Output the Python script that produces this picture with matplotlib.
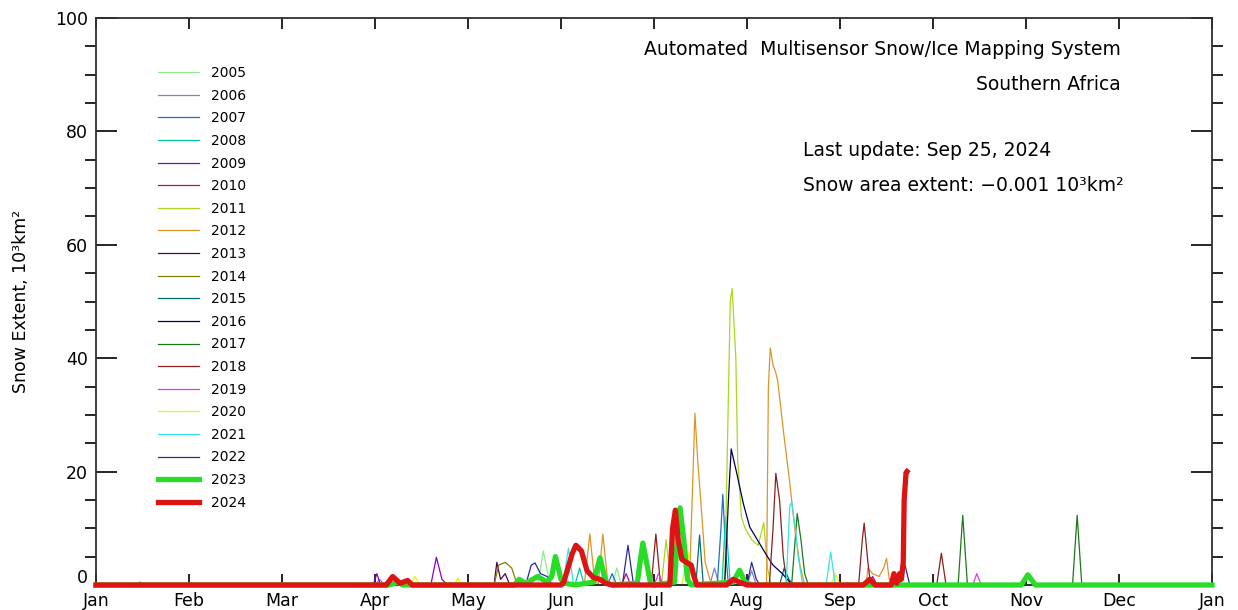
import matplotlib
matplotlib.use("Agg")
import matplotlib.pyplot as plt
from matplotlib.ticker import MultipleLocator, FuncFormatter

# month positions (0 = Jan 1, 12 = next Jan 1) and snow extent, 10^3 km^2
S2005 = [(0, 0), (0.42, 0), (0.47, 0.6), (0.52, 0), (4.75, 0), (4.81, 6.0), (4.87, 1.0), (4.92, 0),
         (5.55, 0), (5.6, 3.0), (5.65, 0), (12, 0)]
S2006 = [(0, 0), (3.0, 0), (3.05, 1.0), (3.1, 0), (6.6, 0), (6.65, 3.0), (6.7, 0),
         (7.0, 0), (7.05, 2.5), (7.1, 0), (12, 0)]
S2007 = [(0, 0), (5.5, 0), (5.55, 2.0), (5.6, 0), (6.68, 0), (6.72, 10), (6.74, 16), (6.77, 6), (6.8, 0), (12, 0)]
S2008 = [(0, 0), (5.15, 0), (5.2, 3.0), (5.25, 0), (6.73, 0), (6.77, 12), (6.82, 0), (12, 0)]
S2009 = [(0, 0), (2.98, 0), (3.02, 2.0), (3.06, 0), (3.6, 0), (3.66, 4.9), (3.72, 1.0), (3.78, 0), (12, 0)]
S2010 = [(0, 0), (5.65, 0), (5.7, 2.0), (5.75, 0), (8.3, 0), (8.35, 1.5), (8.4, 0), (12, 0)]
S2011 = [(0, 0), (6.08, 0), (6.13, 8), (6.18, 1), (6.22, 0), (6.76, 0), (6.79, 25), (6.82, 50), (6.84, 52.3),
         (6.88, 40), (6.9, 22), (6.94, 12), (6.98, 10), (7.05, 8), (7.12, 7), (7.18, 11), (7.22, 3), (7.26, 0), (12, 0)]
S2012 = [(0, 0), (5.25, 0), (5.31, 9), (5.36, 1), (5.4, 0), (5.45, 9), (5.5, 1), (5.55, 0),
         (6.38, 0), (6.42, 20), (6.44, 30.3), (6.47, 22), (6.52, 11), (6.55, 4), (6.6, 1), (6.65, 0),
         (7.21, 0), (7.23, 35), (7.25, 41.8), (7.28, 38.8), (7.31, 37.4), (7.33, 36), (7.4, 26), (7.46, 18),
         (7.52, 9), (7.57, 3.5), (7.62, 0), (8.28, 0), (8.3, 3), (8.35, 2), (8.42, 1.5), (8.47, 3),
         (8.5, 4.7), (8.53, 1), (8.56, 0), (12, 0)]
S2013 = [(0, 0), (4.28, 0), (4.31, 4.0), (4.35, 1.0), (4.4, 2.0), (4.45, 0), (12, 0)]
S2014 = [(0, 0), (4.28, 0), (4.33, 3.5), (4.4, 4.0), (4.47, 3.0), (4.52, 0.5), (4.56, 0), (12, 0)]
S2015 = [(0, 0), (6.45, 0), (6.49, 8.8), (6.53, 0), (7.35, 0), (7.4, 3.0), (7.45, 1.0), (7.5, 0), (12, 0)]
S2016 = [(0, 0), (6.76, 0), (6.8, 15), (6.83, 24), (6.89, 19.7), (6.96, 14.4), (7.03, 10.2), (7.11, 8),
         (7.22, 5), (7.28, 3.5), (7.38, 2), (7.46, 0.5), (7.5, 0), (12, 0)]
S2017 = [(0, 0), (7.48, 0), (7.54, 12.6), (7.58, 8), (7.62, 2), (7.66, 0), (9.27, 0), (9.32, 12.3), (9.37, 0),
         (10.5, 0), (10.55, 12.3), (10.6, 0), (12, 0)]
S2018 = [(0, 0), (5.97, 0), (6.02, 9), (6.07, 0), (7.24, 0), (7.28, 10), (7.31, 19.7), (7.35, 15), (7.39, 5),
         (7.43, 0), (8.2, 0), (8.24, 8), (8.26, 10.9), (8.3, 4), (8.33, 0), (9.04, 0), (9.09, 5.6), (9.14, 0), (12, 0)]
S2019 = [(0, 0), (6.0, 0), (6.05, 2.0), (6.1, 0), (9.43, 0), (9.47, 2.0), (9.52, 0), (12, 0)]
S2020 = [(0, 0), (3.38, 0), (3.43, 1.5), (3.48, 0), (3.85, 0), (3.89, 1.2), (3.93, 0), (6.3, 0), (6.36, 6),
         (6.42, 1), (6.46, 0), (7.9, 0), (7.95, 2), (8.0, 0), (12, 0)]
S2021 = [(0, 0), (5.02, 0), (5.08, 6.5), (5.13, 0.5), (5.16, 0), (7.42, 0), (7.46, 14), (7.48, 14.6), (7.52, 10),
         (7.55, 5), (7.6, 0), (7.85, 0), (7.9, 5.8), (7.95, 0), (12, 0)]
S2022 = [(0, 0), (4.62, 0), (4.68, 3.5), (4.72, 3.9), (4.78, 2.0), (4.85, 1.5), (4.9, 0), (5.66, 0), (5.72, 7),
         (5.78, 0), (7.0, 0), (7.05, 4), (7.1, 1), (7.14, 0), (8.64, 0), (8.7, 3.5), (8.75, 0), (12, 0)]
S2023 = [(0, 0), (3.15, 0), (3.25, 0.5), (3.3, 0), (4.5, 0), (4.55, 1.0), (4.62, 0.3), (4.75, 1.5), (4.85, 0.5),
         (4.9, 1.5), (4.94, 5.0), (5.0, 1.0), (5.05, 0.3), (5.15, 0), (5.35, 0.5), (5.42, 4.8), (5.48, 0.5),
         (5.55, 0), (5.82, 0.3), (5.85, 4.0), (5.88, 7.4), (5.92, 4.0), (5.96, 0.5), (6.0, 0), (6.22, 0.5),
         (6.25, 8.0), (6.28, 13.6), (6.32, 8.0), (6.36, 1.0), (6.4, 0), (6.85, 0.5), (6.92, 2.6), (6.98, 0.5),
         (7.05, 0), (9.95, 0), (10.02, 1.8), (10.1, 0), (12, 0)]
S2024 = [(0, 0), (3.12, 0), (3.19, 1.5), (3.27, 0.3), (3.35, 0.8), (3.4, 0), (5.0, 0), (5.03, 0.5), (5.12, 5.5),
         (5.16, 7.0), (5.22, 6.0), (5.28, 2.5), (5.35, 1.3), (5.42, 1.0), (5.48, 0.3), (5.55, 0), (6.17, 0),
         (6.2, 10), (6.23, 13.2), (6.26, 8), (6.3, 4.5), (6.4, 3.5), (6.43, 1.5), (6.46, 0), (6.78, 0),
         (6.85, 1.0), (6.92, 0.5), (7.0, 0), (8.25, 0), (8.32, 1.0), (8.38, 0), (8.55, 0), (8.58, 2.0),
         (8.61, 0.3), (8.64, 2.0), (8.66, 1.0), (8.68, 4.0), (8.69, 15), (8.71, 19.8), (8.72, 20)]

YEARS = list(range(2005, 2025))
SERIES = [S2005, S2006, S2007, S2008, S2009, S2010, S2011, S2012, S2013, S2014,
          S2015, S2016, S2017, S2018, S2019, S2020, S2021, S2022, S2023, S2024]
COLORS = ["#90e890", "#8080d0", "#1e70c8", "#00c8a0", "#8c00c8", "#c8007a", "#a8d820", "#dc9628",
          "#500050", "#808000", "#007070", "#000050", "#1e781e", "#8c1e1e", "#e632e6", "#f0f000",
          "#32e6e6", "#282896", "#28dc28", "#dc1414"]
MONTHS = ["Jan", "Feb", "Mar", "Apr", "May", "Jun", "Jul", "Aug", "Sep", "Oct", "Nov", "Dec", "Jan"]

fig = plt.figure(figsize=(12.38, 6.10), dpi=100)
ax = fig.add_axes([96 / 1238, 1 - 585 / 610, 1116 / 1238, 567 / 610])

for year, series, color in zip(YEARS, SERIES, COLORS):
    xs = [p[0] for p in series]
    ys = [p[1] for p in series]
    thick = year >= 2023
    ax.plot(xs, ys, color=color, lw=3.8 if thick else 0.9, label=str(year),
            clip_on=False, zorder=3 if thick else 2)

ax.set_xlim(0, 12)
ax.set_ylim(0, 100)
ax.set_xticks(range(13))
ax.set_xticklabels(MONTHS)
ax.yaxis.set_major_locator(MultipleLocator(20))
ax.yaxis.set_minor_locator(MultipleLocator(5))
# the zero label sits a little higher than its tick, drawn separately below
ax.yaxis.set_major_formatter(FuncFormatter(lambda v, pos: "" if v == 0 else f"{v:.0f}"))
ax.tick_params(axis="both", direction="in", labelsize=12.5, width=1.2)
ax.tick_params(axis="x", length=8, top=True, pad=5)
ax.tick_params(axis="y", which="major", length=15, right=True, pad=6)
ax.tick_params(axis="y", which="minor", length=8, right=True, width=1.2)
for spine in ax.spines.values():
    spine.set_linewidth(1.3)
    spine.set_color("#303030")

ax.annotate("0", xy=(0, 0), xycoords="axes fraction", xytext=(-6, 5), textcoords="offset points",
            ha="right", va="center", fontsize=12.5)

ax.set_ylabel("Snow Extent, 10³km²", fontsize=12.5, labelpad=18)

ax.legend(loc="upper left", bbox_to_anchor=(0.0504, 0.925), frameon=False, fontsize=10,
          handlelength=3.0, handletextpad=0.85, labelspacing=0.62, borderaxespad=0)

ax.text(0.918, 0.945, "Automated  Multisensor Snow/Ice Mapping System", transform=ax.transAxes,
        ha="right", va="center", fontsize=13.5)
ax.text(0.918, 0.882, "Southern Africa", transform=ax.transAxes, ha="right", va="center", fontsize=13.5)
ax.text(0.6335, 0.767, "Last update: Sep 25, 2024", transform=ax.transAxes, ha="left", va="center",
        fontsize=13.5)
ax.text(0.6335, 0.704, "Snow area extent: \u22120.001 10³km²", transform=ax.transAxes,
        ha="left", va="center", fontsize=13.5)

fig.savefig("out.png", dpi=100)
